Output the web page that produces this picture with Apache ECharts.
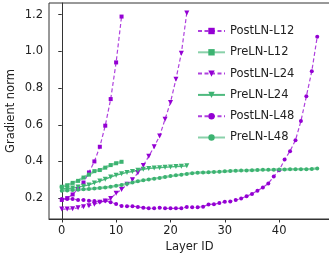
<!DOCTYPE html>
<html>
<head>
<meta charset="utf-8">
<script src="https://cdn.jsdelivr.net/npm/echarts@6/dist/echarts.min.js"></script>
<style>
html,body{margin:0;padding:0;background:#fff;}
#chart{width:329px;height:257px;}
</style>
</head>
<body>
<div id="chart"></div>
<script>
// values
var postL12 = [0.19, 0.2, 0.22, 0.25, 0.285, 0.34, 0.40, 0.48, 0.595, 0.74, 0.94, 1.19];
var preL12 = [0.262, 0.27, 0.283, 0.294, 0.312, 0.328, 0.347, 0.353, 0.366, 0.38, 0.39, 0.398];
var postL24 = [0.14, 0.14, 0.142, 0.147, 0.153, 0.158, 0.166, 0.178, 0.184, 0.198, 0.226, 0.247,
	0.275, 0.30, 0.338, 0.378, 0.428, 0.48, 0.538, 0.63, 0.722, 0.848, 0.99, 1.21];
var preL24 = [0.25, 0.252, 0.255, 0.26, 0.265, 0.272, 0.283, 0.293, 0.303, 0.315, 0.325, 0.333,
	0.34, 0.345, 0.352, 0.357, 0.362, 0.364, 0.366, 0.368, 0.37, 0.372, 0.374, 0.376];
var postL48 = [0.195, 0.195, 0.195, 0.19, 0.19, 0.185, 0.184, 0.18, 0.185, 0.178, 0.168, 0.157,
	0.156, 0.156, 0.152, 0.148, 0.144, 0.144, 0.148, 0.144, 0.144, 0.144, 0.144, 0.152,
	0.15, 0.15, 0.153, 0.165, 0.167, 0.173, 0.18, 0.182, 0.189, 0.198, 0.21, 0.223,
	0.24, 0.258, 0.28, 0.318, 0.352, 0.41, 0.456, 0.516, 0.62, 0.755, 0.892, 1.08];
var preL48 = [0.24, 0.242, 0.244, 0.246, 0.248, 0.25, 0.252, 0.255, 0.258, 0.262, 0.267, 0.272,
	0.278, 0.285, 0.292, 0.297, 0.302, 0.306, 0.31, 0.315, 0.32, 0.324, 0.328, 0.332,
	0.336, 0.338, 0.34, 0.341, 0.343, 0.344, 0.346, 0.348, 0.349, 0.35, 0.351, 0.352,
	0.353, 0.354, 0.354, 0.355, 0.356, 0.356, 0.357, 0.357, 0.358, 0.358, 0.359, 0.362];
var xTicks = [0, 10, 20, 30, 40];
var yTicks = [0.2, 0.4, 0.6, 0.8, 1.0, 1.2];

var purple = '#9400d3';
var green = '#3cb371';
var font = 'DejaVu Sans';

//把数组转成[x,y]
function pts(arr){
	var out = [];
	for(var i=0;i<arr.length;i++){
		out.push([i, arr[i]]);
	}
	return out;
}

function postSeries(name, arr, symbol, rot){
	return {
		name: name, type: 'line', data: pts(arr),
		symbol: symbol, symbolSize: symbol === 'triangle' ? 5 : 4, symbolRotate: rot || 0,
		showSymbol: true,
		itemStyle: {color: purple},
		lineStyle: {color: purple, width: 1.2, type: [4, 2.5], opacity: 0.75},
		emphasis: {disabled: true}, animation: false
	};
}
function preSeries(name, arr, symbol, width, opacity){
	return {
		name: name, type: 'line', data: pts(arr),
		symbol: symbol, symbolSize: symbol === 'triangle' ? 5 : 4, symbolRotate: symbol === 'triangle' ? 180 : 0,
		itemStyle: {color: green},
		lineStyle: {color: green, width: width, opacity: opacity},
		emphasis: {disabled: true}, animation: false
	};
}

var myChart = echarts.init(document.getElementById('chart'));
var option = {
	backgroundColor: '#fff',
	animation: false,
	grid: {left: 49, right: -1, top: 3, bottom: 38, show: true, borderColor: '#333', borderWidth: 1,
		outerBoundsMode: 'none', containLabel: false},
	legend: {
		left: 192, top: 20, orient: 'vertical',
		itemWidth: 27, itemHeight: 8, itemGap: 9.3,
		textStyle: {fontFamily: font, fontSize: 11.5, color: '#222'},
		data: ['PostLN-L12', 'PreLN-L12', 'PostLN-L24', 'PreLN-L24', 'PostLN-L48', 'PreLN-L48']
	},
	xAxis: {
		type: 'value', min: -2.35, max: 49.35,
		name: 'Layer ID', nameLocation: 'middle', nameGap: 22.5, nameMoveOverlap: false,
		nameTextStyle: {fontFamily: font, fontSize: 11.5, color: '#222', verticalAlign: 'top'},
		axisLine: {lineStyle: {color: '#333'}},
		axisTick: {customValues: xTicks, length: 3.5, lineStyle: {color: '#333'}},
		axisLabel: {customValues: xTicks, fontFamily: font, fontSize: 11.5, color: '#222', margin: 6},
		splitLine: {show: false}
	},
	yAxis: {
		type: 'value', min: 0.086, max: 1.264,
		name: 'Gradient norm', nameLocation: 'middle', nameGap: 32, nameMoveOverlap: false,
		nameTextStyle: {fontFamily: font, fontSize: 11.5, color: '#222'},
		axisLine: {show: true, lineStyle: {color: '#333'}},
		axisTick: {show: true, customValues: yTicks, length: 3.5, lineStyle: {color: '#333'}},
		axisLabel: {customValues: yTicks, fontFamily: font, fontSize: 11.5, color: '#222', margin: 6,
			formatter: function(v){ return v.toFixed(1); }},
		splitLine: {show: false}
	},
	series: [
		postSeries('PostLN-L12', postL12, 'rect'),
		preSeries('PreLN-L12', preL12, 'rect', 2.4, 0.6),
		postSeries('PostLN-L24', postL24, 'triangle', 180),
		preSeries('PreLN-L24', preL24, 'triangle', 1.4, 0.9),
		postSeries('PostLN-L48', postL48, 'circle'),
		preSeries('PreLN-L48', preL48, 'circle', 2.4, 0.6)
	]
};
myChart.setOption(option);
</script>
</body>
</html>
